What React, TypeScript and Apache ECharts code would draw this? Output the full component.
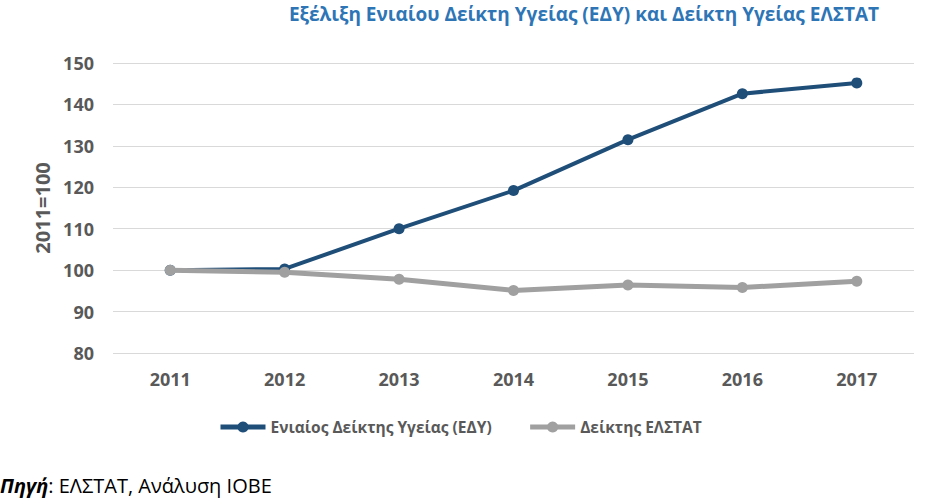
import React, { useEffect, useRef } from "react";
import * as echarts from "echarts";

const years = ["2011", "2012", "2013", "2014", "2015", "2016", "2017"];
const edyValues = [100, 100.3, 110, 119.2, 131.5, 142.6, 145.2];
const elstatValues = [100, 99.5, 97.8, 95.1, 96.4, 95.8, 97.3];
const titleText = "Εξέλιξη Ενιαίου Δείκτη Υγείας (ΕΔΥ) και Δείκτη Υγείας ΕΛΣΤΑΤ";
const edyName = "Ενιαίος Δείκτης Υγείας (ΕΔΥ)";
const elstatName = "Δείκτης ΕΛΣΤΑΤ";
const yAxisName = "2011=100";

const FONT = "'Open Sans', 'Noto Sans', sans-serif";
const GRAY_TEXT = "#595959";

export default function App() {
  const ref = useRef<HTMLDivElement>(null);
  useEffect(() => {
    if (!ref.current) return;
    const chart = echarts.init(ref.current, null, { renderer: "svg" });
    chart.setOption({
      animation: false,
      backgroundColor: "#ffffff",
      textStyle: { fontFamily: FONT },
      title: {
        text: titleText,
        left: 579,
        textAlign: "center",
        top: -1,
        textStyle: { color: "#2E75B6", fontSize: 19, fontWeight: "bold", fontFamily: FONT },
      },
      grid: { left: 113, right: 26, top: 63, bottom: 146, containLabel: false },
      legend: {
        left: 213,
        top: 414,
        itemWidth: 45,
        itemHeight: 14,
        itemGap: 36,
        lineStyle: { width: 5 },
        textStyle: { color: GRAY_TEXT, fontSize: 15.5, fontWeight: "bold", fontFamily: FONT },
        data: [edyName, elstatName],
      },
      xAxis: {
        type: "category",
        data: years,
        boundaryGap: true,
        axisLine: { show: false },
        axisTick: { show: false },
        axisLabel: { color: GRAY_TEXT, fontSize: 18, fontWeight: "bold", margin: 17, fontFamily: FONT },
      },
      yAxis: {
        type: "value",
        min: 80,
        max: 150,
        interval: 10,
        name: yAxisName,
        nameLocation: "middle",
        nameGap: 60,
        nameTextStyle: { color: GRAY_TEXT, fontSize: 20, fontWeight: "bold", fontFamily: FONT },
        axisLine: { show: false },
        axisTick: { show: false },
        axisLabel: { color: GRAY_TEXT, fontSize: 18, fontWeight: "bold", margin: 19, fontFamily: FONT },
        splitLine: { lineStyle: { color: "#D9D9D9", width: 1 } },
      },
      series: [
        {
          name: edyName,
          type: "line",
          data: edyValues,
          symbol: "circle",
          symbolSize: 11,
          lineStyle: { color: "#1F4E79", width: 4 },
          itemStyle: { color: "#1F4E79" },
          z: 3,
        },
        {
          name: elstatName,
          type: "line",
          data: elstatValues,
          symbol: "circle",
          symbolSize: 11,
          lineStyle: { color: "#A0A0A0", width: 5 },
          itemStyle: { color: "#A0A0A0" },
          z: 4,
        },
      ],
      graphic: [
        {
          type: "text",
          left: 0,
          top: 475,
          style: {
            text: "{b|Πηγή}{n|: ΕΛΣΤΑΤ, Ανάλυση ΙΟΒΕ}",
            rich: {
              b: { fontSize: 20, fontWeight: "bold", fontStyle: "italic", fill: "#000", fontFamily: FONT },
              n: { fontSize: 20, fill: "#000", fontFamily: FONT },
            },
          },
        },
      ],
    });
    return () => chart.dispose();
  }, []);
  return (
    <div
      ref={ref}
      style={{ position: "absolute", left: 0, top: 0, width: 940, height: 499 }}
    />
  );
}
